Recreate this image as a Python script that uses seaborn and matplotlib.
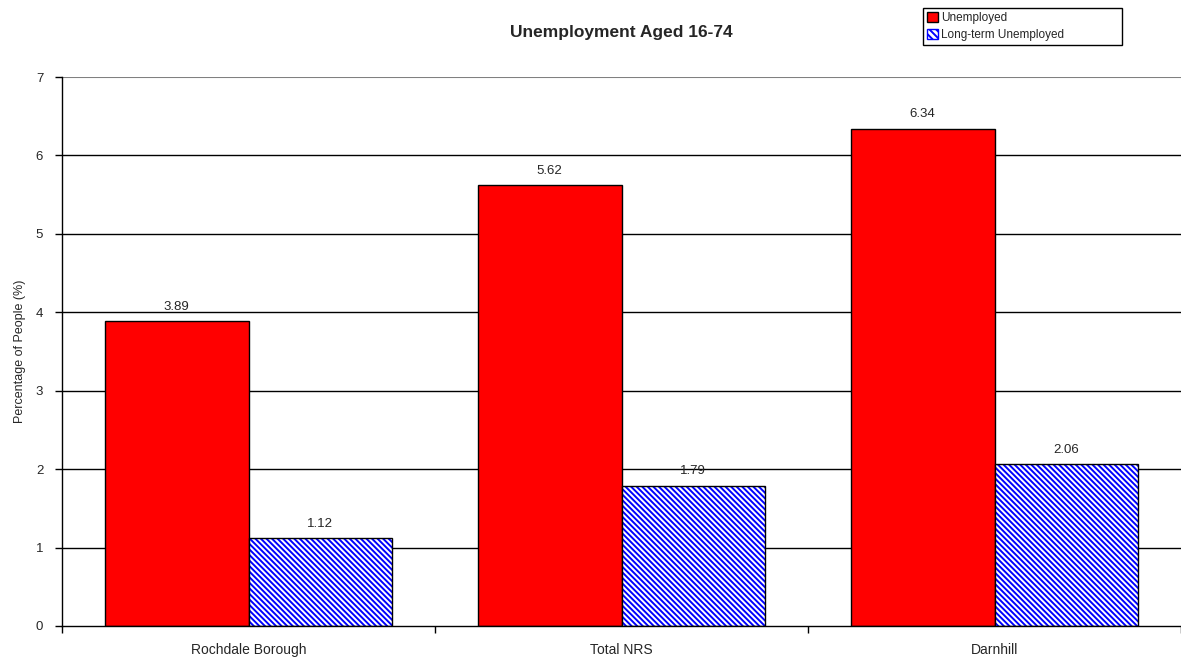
import matplotlib
matplotlib.use("Agg")
import matplotlib.pyplot as plt
import seaborn as sns
import pandas as pd
from matplotlib.patches import Rectangle, Patch

## data
areas = ['Rochdale Borough', 'Total NRS', 'Darnhill']
unemployed = [3.89, 5.62, 6.34]
long_term = [1.12, 1.79, 2.06]
series = ['Unemployed', 'Long-term Unemployed']

df = pd.DataFrame({
    'Area': areas * 2,
    'Series': [series[0]] * 3 + [series[1]] * 3,
    'Value': unemployed + long_term,
})

sns.set_style('white')
plt.rcParams['font.family'] = ['Liberation Sans', 'DejaVu Sans']
plt.rcParams['hatch.linewidth'] = 1.4

fig = plt.figure(figsize=(11.81, 6.57), dpi=100)
ax = fig.add_axes([62 / 1181, 1 - 626 / 657, 1 - 62 / 1181, (626 - 77) / 657])

sns.barplot(data=df, x='Area', y='Value', hue='Series', ax=ax,
            palette=['#ff0000', 'white'], width=0.77, saturation=1,
            edgecolor='black', linewidth=1, legend=False, zorder=3)

# hatched second series: blue hatch, black outline drawn on top
for p in ax.containers[1]:
    p.set_edgecolor('#0000ff')
    p.set_hatch('\\' * 6)
    p.set_linewidth(0)
    ax.add_patch(Rectangle((p.get_x(), p.get_y()), p.get_width(), p.get_height(),
                           fill=False, edgecolor='black', linewidth=1, zorder=4))

for cont in ax.containers:
    ax.bar_label(cont, fmt='%.2f', padding=6, fontsize=9.5)

ax.set_ylim(0, 7)
ax.set_xlim(-0.5, 2.5)
ax.set_yticks(range(8))
ax.tick_params(axis='y', labelsize=9.5, length=5, pad=8.5, direction='out', left=True, width=1, color='black')
ax.set_xticks([-0.5, 0.5, 1.5, 2.5], minor=True)
ax.tick_params(axis='x', which='major', length=0, labelsize=10, pad=12)
ax.tick_params(axis='x', which='minor', length=5, direction='out', bottom=True, width=1, color='black')
ax.set_xlabel('')
ax.set_ylabel('Percentage of People (%)', fontsize=9)
ax.yaxis.set_label_coords((26 - 62) / 1119, 0.5)

for v in range(1, 7):
    ax.axhline(v, color='black', linewidth=1, zorder=1)
ax.axhline(7, color='#808080', linewidth=1.5, zorder=1)

for s in ['top', 'right']:
    ax.spines[s].set_visible(False)
for s in ['left', 'bottom']:
    ax.spines[s].set_color('black')
    ax.spines[s].set_linewidth(1)
    ax.spines[s].set_zorder(5)

fig.text((62 + 1181) / 2 / 1181, 1 - 32 / 657, 'Unemployment Aged 16-74',
         ha='center', va='center', fontsize=12.5, fontweight='bold')

handles = [Patch(facecolor='#ff0000', edgecolor='black', linewidth=1),
           Patch(facecolor='white', edgecolor='#0000ff', hatch='\\' * 5, linewidth=1)]
leg = fig.legend(handles, series, loc='upper left', mode='expand',
                 bbox_to_anchor=(923 / 1181, 1 - 46 / 657, 199 / 1181, 38 / 657),
                 fontsize=8.5, frameon=True, fancybox=False, framealpha=1,
                 edgecolor='black', handlelength=0.9, handleheight=0.9,
                 handletextpad=0.3, borderpad=0.35, labelspacing=0.4, borderaxespad=0)
leg.get_frame().set_linewidth(1)

fig.savefig('out.png', dpi=100)
